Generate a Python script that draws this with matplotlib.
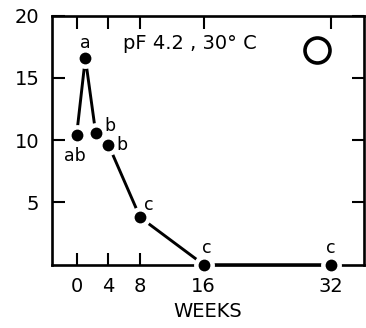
import matplotlib
matplotlib.use("Agg")
import matplotlib.pyplot as plt

# Values
weeks = [0, 1.1, 2.4, 4, 8, 16, 32]
values = [10.4, 16.6, 10.6, 9.65, 3.8, 0.0, 0.0]
letters = ["ab", "a", "b", "b", "c", "c", "c"]
# label offsets from each point, in points
label_offsets = [(-1.5, -15), (0, 10.5), (10, 5), (9.5, 0), (6, 9), (2, 12), (0, 12)]

x_ticks = [0, 4, 8, 16, 32]
y_ticks = [5, 10, 15, 20]
title_text = "pF 4.2 , 30\u00b0 C"

plt.rcParams["font.family"] = "DejaVu Sans"

fig = plt.figure(figsize=(3.66, 3.28), dpi=100)
ax = fig.add_axes([0.142, 0.193, 0.853, 0.759])

# line, then white discs to make the gaps, then the black dots
ax.plot(weeks, values, color="black", lw=2.1, zorder=2, clip_on=False)
ax.plot(weeks, values, "o", ms=15, color="white", mec="none", zorder=3, clip_on=False)
ax.plot(weeks, values, "o", ms=8.5, color="black", mec="none", zorder=4, clip_on=False)

for x, y, lab, off in zip(weeks, values, letters, label_offsets):
    ax.annotate(lab, (x, y), xytext=off, textcoords="offset points",
                ha="center", va="center", fontsize=12.5, zorder=5)

ax.text(0.442, 0.89, title_text, transform=ax.transAxes, ha="center", va="center",
        fontsize=14)
ax.plot([0.85], [0.863], "o", ms=18, mfc="none", mec="black", mew=2.6,
        transform=ax.transAxes)

ax.set_xlim(-3.1, 36.2)
ax.set_ylim(0, 20)
ax.set_xticks(x_ticks)
ax.set_yticks(y_ticks)
ax.tick_params(direction="in", length=9, width=1.5, labelsize=14, pad=9,
               top=True, right=True)
# the dots sit on the bottom axis at 16 and 32, no bottom tick there
for t in ax.xaxis.get_major_ticks()[3:]:
    t.tick1line.set_visible(False)
for s in ax.spines.values():
    s.set_linewidth(1.9)

ax.set_xlabel("WEEKS", fontsize=14, labelpad=4)

fig.savefig("out.png", dpi=100, facecolor="white")
